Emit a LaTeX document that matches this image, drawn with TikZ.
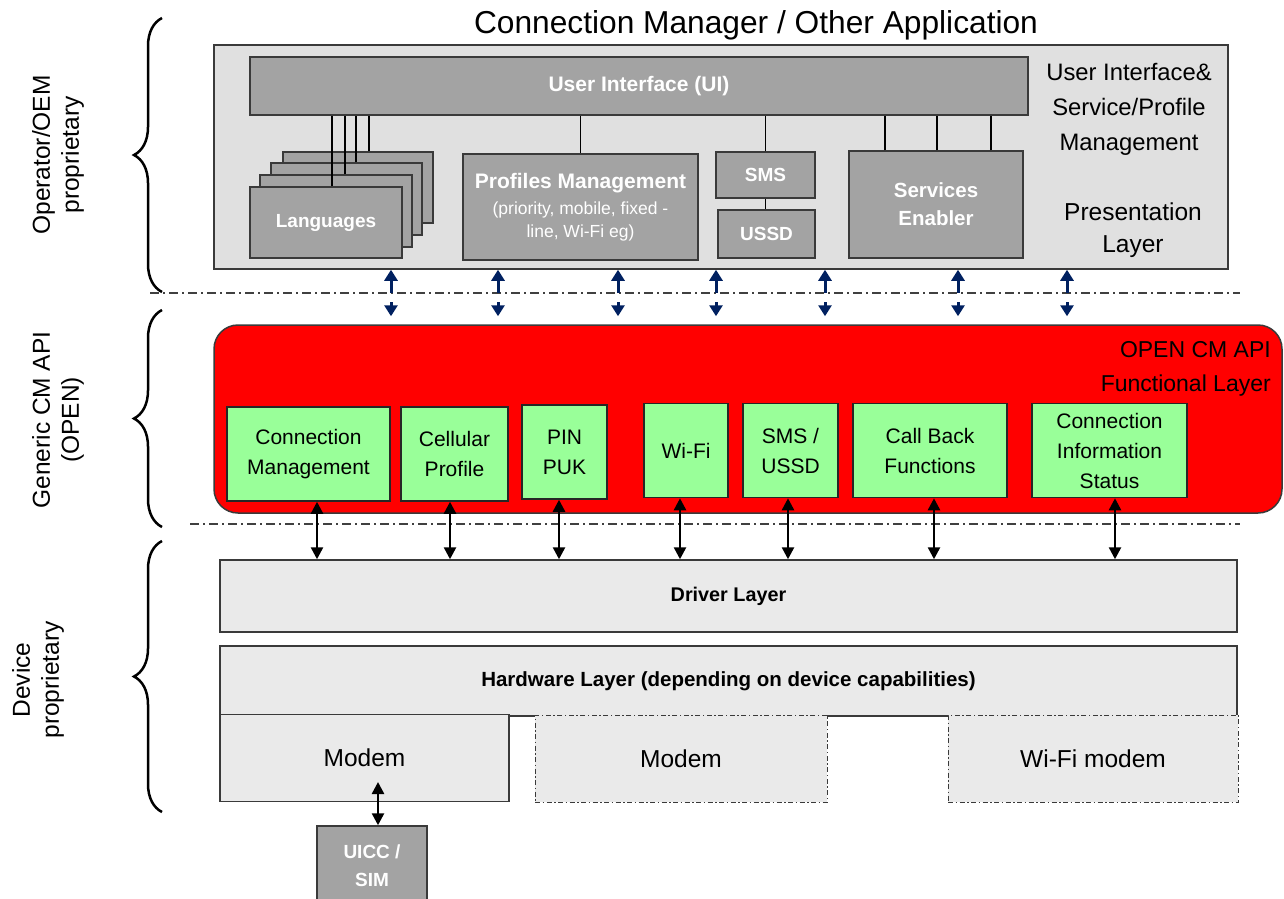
\documentclass[tikz,border=0pt]{standalone}
\usepackage{fontspec}
\setmainfont{Liberation Sans}
\usepackage{xcolor}
\usepackage{tikz}
\usetikzlibrary{arrows.meta,decorations.pathreplacing}

\definecolor{panelgray}{HTML}{E0E0E0}
\definecolor{boxgray}{HTML}{A3A3A3}
\definecolor{layergray}{HTML}{EAEAEA}
\definecolor{apired}{HTML}{FF0000}
\definecolor{funcgreen}{HTML}{99FF99}
\definecolor{navy}{HTML}{002060}
\definecolor{edgegray}{HTML}{3A3A3A}

\tikzset{
  graybox/.style={draw=edgegray, line width=1.5pt, fill=boxgray, text=white,
    font=\fontsize{19}{28}\selectfont\bfseries, align=center, inner sep=0pt},
  greenbox/.style={draw=black!85, line width=1.5pt, fill=funcgreen,
    font=\fontsize{21}{30}\selectfont, align=center, inner sep=0pt, minimum height=94pt},
  layerbox/.style={draw=edgegray, line width=1.5pt, fill=layergray, inner sep=0pt},
  modembox/.style={draw=edgegray, line width=1pt, fill=layergray, inner sep=0pt,
    minimum height=87pt, font=\fontsize{24.5}{28}\selectfont},
  sepline/.style={draw=black!75, line width=1.2pt, dash pattern=on 9pt off 4pt on 2pt off 4pt},
  updown/.style={line width=2.5pt, {Triangle[length=12pt,width=12pt]}-{Triangle[length=12pt,width=12pt]}},
  navyarrow/.style={draw=navy, line width=3pt, -{Triangle[length=11pt,width=13pt]}},
  sidebrace/.style={decorate, decoration={brace, amplitude=28pt}, line width=2.5pt},
  sidelabel/.style={rotate=90, align=center, font=\fontsize{24.5}{29}\selectfont},
}

\begin{document}
\begin{tikzpicture}[x=1pt,y=-1pt]
\useasboundingbox (0,0) rectangle (1284,898);

% separators between the three layers
\coordinate (sepaw) at (150,293);
\coordinate (sepae) at (1240,293);
\coordinate (sepbw) at (190,524);
\coordinate (sepbe) at (1240,524);
\draw [sepline] (sepaw) -- (sepae);
\draw [sepline] (sepbw) -- (sepbe);

% presentation layer
\node (title) at (756,25) [font=\fontsize{31.7}{36}\selectfont] {Connection Manager / Other Application};
\node (panel) at (721,157) [draw=edgegray, line width=1.5pt, fill=panelgray, minimum width=1014pt, minimum height=224pt] {};
\node (ui) at (639,86) [graybox, minimum width=778pt, minimum height=58pt, font=\fontsize{21}{28}\selectfont\bfseries] {User Interface (UI)};

\node (langd) at (358,187.5) [graybox, minimum width=150pt, minimum height=71pt] {};
\node (langc) at (346.5,199) [graybox, minimum width=151pt, minimum height=72pt] {};
\node (langb) at (336,211) [graybox, minimum width=152pt, minimum height=72pt] {};
\node (langa) at (326,222.5) [graybox, minimum width=152pt, minimum height=71pt] {Languages};
\draw [line width=1.5pt] ([xshift=6pt]langa.north) -- ([xshift=6pt]langa.north |- ui.south);
\draw [line width=1.5pt] ([xshift=9pt]langb.north) -- ([xshift=9pt]langb.north |- ui.south);
\draw [line width=1.5pt] ([xshift=9.5pt]langc.north) -- ([xshift=9.5pt]langc.north |- ui.south);
\draw [line width=1.5pt] ([xshift=11pt]langd.north) -- ([xshift=11pt]langd.north |- ui.south);

\node (prof) at (580.5,207) [graybox, minimum width=235pt, minimum height=106pt] {\fontsize{21}{28}\selectfont Profiles Management\\[-2pt]
  \fontsize{17.5}{21}\mdseries (priority, mobile, fixed -\\[-5pt]
  \fontsize{17.5}{21}\mdseries line, Wi-Fi eg)};
\node (sms) at (765.5,175) [graybox, minimum width=99pt, minimum height=46pt] {SMS};
\node (ussd) at (766.5,234) [graybox, minimum width=97pt, minimum height=48pt] {USSD};
\node (serv) at (936,204.5) [graybox, minimum width=174pt, minimum height=107pt, font=\fontsize{20.5}{28}\selectfont\bfseries] {Services\\Enabler};

\draw [line width=1.5pt] (prof.north) -- (prof.north |- ui.south);
\draw [line width=1.5pt] (sms.north) -- (sms.north |- ui.south);
\draw [line width=1.5pt] (sms.south) -- (sms.south |- ussd.north);
\foreach \dx in {-51,1,55}
  \draw [line width=1.5pt] ([xshift=\dx pt]serv.north) -- ([xshift=\dx pt]serv.north |- ui.south);

\node (uilabel) at (1129,109) [align=center, font=\fontsize{23.8}{35}\selectfont] {User Interface\&\\Service/Profile\\Management};
\node (preslabel) at (1133,230) [align=center, font=\fontsize{24.5}{32}\selectfont] {Presentation\\Layer};

% open api layer
\node (api) at (748,419) [draw=edgegray, line width=1.5pt, fill=apired, rounded corners=24pt, minimum width=1068pt, minimum height=188pt] {};
\node (apilabel) at (1271,341) [anchor=north east, align=right, font=\fontsize{23}{34}\selectfont, inner sep=0pt] {OPEN CM API\\Functional Layer};

\node (cm) at (308.5,454) [greenbox, minimum width=163pt] {Connection\\Management};
\node (cell) at (454.5,454) [greenbox, minimum width=107pt] {Cellular\\Profile};
\node (pin) at (564.5,452) [greenbox, minimum width=85pt] {PIN\\PUK};
\node (wifi) at (686,450.5) [greenbox, minimum width=84pt] {Wi-Fi};
\node (smsu) at (790.5,450.5) [greenbox, minimum width=95pt] {SMS /\\USSD};
\node (cb) at (930,450.5) [greenbox, minimum width=154pt] {Call Back\\Functions};
\node (cis) at (1109.5,450.5) [greenbox, minimum width=155pt] {Connection\\Information\\Status};

% device layer
\node (driver) at (728.5,596) [layerbox, minimum width=1017pt, minimum height=72pt, font=\fontsize{19.8}{24}\selectfont\bfseries] {Driver Layer};
\node (hw) at (728.5,681) [layerbox, minimum width=1017pt, minimum height=70pt, font=\fontsize{20.5}{24}\selectfont\bfseries] {Hardware Layer (depending on device capabilities)};
\node (modema) at (364.5,758) [modembox, line width=1.5pt, minimum width=289pt] {Modem};
\node (modemb) at (681,758.5) [modembox, minimum width=292pt, dash pattern=on 5pt off 2.5pt on 1.5pt off 2.5pt] {Modem};
\node (modemc) at (1093,758.5) [modembox, minimum width=290pt, dash pattern=on 5pt off 2.5pt on 1.5pt off 2.5pt] {Wi-Fi modem};
\node (uicc) at (372,866) [graybox, minimum width=110pt, minimum height=80pt] {UICC /\\SIM};

% links
\foreach \x [count=\i] in {391,498,618,716,825,958,1067} {
  \coordinate (tap\i) at (\x,293);
  \draw [navyarrow] (tap\i) -- (tap\i |- panel.south);
  \draw [navyarrow, shorten >=8pt] ([yshift=-9pt]tap\i) -- (tap\i |- api.north);
}
\foreach \f/\dx in {cm/8.5,cell/-4.5,pin/-5.5,wifi/-6,smsu/-2.5,cb/4,cis/5.5}
  \draw [updown] ([xshift=\dx pt]\f.south) -- ([xshift=\dx pt]\f.south |- driver.north);
\draw [updown, shorten >=24pt] ([xshift=6pt]uicc.north) -- ([xshift=6pt]uicc.north |- modema.center);

% braces and side labels
\draw [sidebrace] (162,292) -- (162,18);
\draw [sidebrace] (162,527) -- (162,310);
\draw [sidebrace] (162,812) -- (162,541);
\node (oplabel) at (58,155) [sidelabel] {Operator/OEM\\proprietary};
\node (genlabel) at (58,420) [sidelabel] {Generic CM API\\(OPEN)};
\node (devlabel) at (38,680) [sidelabel] {Device\\proprietary};
\end{tikzpicture}
\end{document}
